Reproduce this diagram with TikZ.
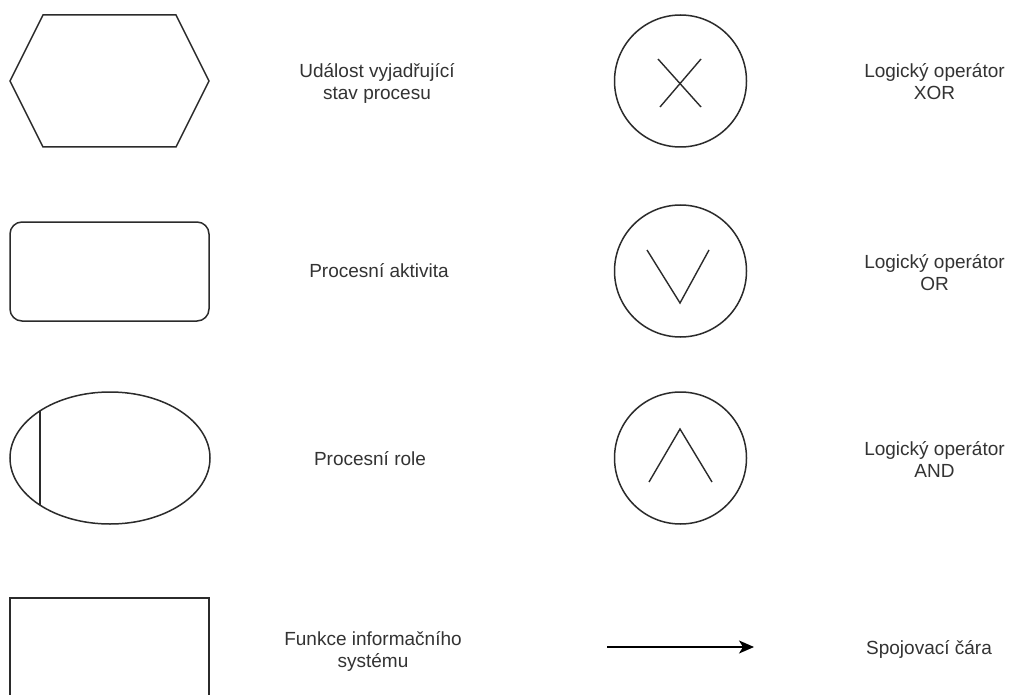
\documentclass[tikz,border=0pt]{standalone}
\usepackage{fontspec}
\setmainfont{Liberation Sans}
\usetikzlibrary{arrows.meta}
\definecolor{ink}{HTML}{2B2B2B}
\definecolor{txt}{HTML}{333333}
\begin{document}
\begin{tikzpicture}[x=1pt,y=-1pt,
  shapeline/.style={draw=ink,line width=1.5pt,line join=miter},
  symline/.style={draw=ink,line width=1.4pt},
  lbl/.style={text=txt,font=\fontsize{19}{22}\selectfont,align=center,inner sep=0pt,anchor=base}]
\useasboundingbox[fill=white] (0,0) rectangle (1011,695);
% hexagon
\draw[shapeline] (43,15) -- (176,15) -- (209,81) -- (176,147) -- (43,147) -- (10,81) -- cycle;
% rounded rectangle
\draw[shapeline,rounded corners=12pt] (10,222) rectangle (209,321);
% ellipse with line
\draw[shapeline] (110,458) ellipse [x radius=100, y radius=66];
\draw[symline] (40,411) -- (40,505);
% rectangle clipped at bottom
\draw[shapeline] (10,697) -- (10,598) -- (209,598) -- (209,697);
% XOR
\draw[shapeline] (680.5,81) circle [radius=66];
\draw[symline] (658,59) -- (701,107);
\draw[symline] (701,59) -- (660,107);
% OR
\draw[shapeline] (680.5,271) circle [radius=66];
\draw[symline] (647,250) -- (680,303) -- (709,250);
% AND
\draw[shapeline] (680.5,458) circle [radius=66];
\draw[symline] (649,482) -- (680,429) -- (712,482);
% arrow
\coordinate (as) at (607,647);
\coordinate (ae) at (754,647);
\draw[draw=black,line width=1.5pt,-{Stealth[length=15pt,width=13pt,inset=4pt]}] (as) -- (ae);
% labels (base = baseline of last line)
\node[lbl] (t1) at (377,100) {Událost vyjadřující\\stav procesu};
\node[lbl] (t2) at (379,277) {Procesní aktivita};
\node[lbl] (t3) at (370,465) {Procesní role};
\node[lbl] (t4) at (373,667) {Funkce informačního\\systému};
\node[lbl] (t5) at (934.5,100) {Logický operátor\\XOR};
\node[lbl] (t6) at (934.5,290) {Logický operátor\\OR};
\node[lbl] (t7) at (934.5,477) {Logický operátor\\AND};
\node[lbl] (t8) at (929,654) {Spojovací čára};
\end{tikzpicture}
\end{document}
